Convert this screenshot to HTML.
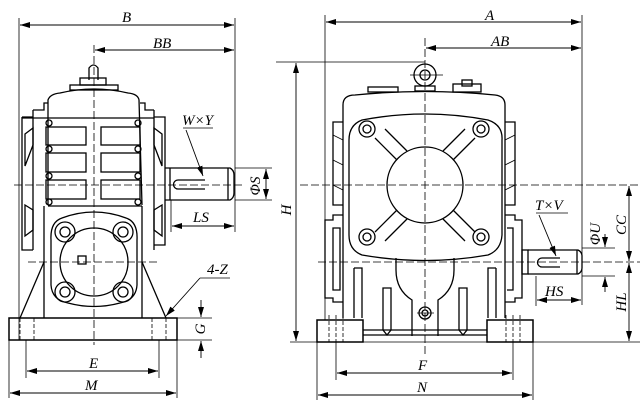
<!DOCTYPE html>
<html><head><meta charset="utf-8"><style>
html,body{margin:0;padding:0;background:#fff}
svg{display:block}
text{font-family:"Liberation Serif",serif;font-style:italic;font-size:15px;fill:#000}
line[marker-end]{stroke-width:0.9}
</style></head><body>
<svg width="642" height="414" viewBox="0 0 642 414" xmlns="http://www.w3.org/2000/svg">
<defs>
<marker id="a" viewBox="0 0 10 6" refX="10" refY="3" markerWidth="10" markerHeight="6" orient="auto-start-reverse" markerUnits="userSpaceOnUse"><path d="M0,0 L10,3 L0,6z" fill="#000"/></marker>
</defs>
<g fill="none" stroke="#000" stroke-width="1.3">
<!-- ===== LEFT VIEW dimensions ===== -->
<line x1="19" y1="18" x2="19" y2="340" stroke-width="0.8"/>
<line x1="235" y1="18" x2="235" y2="232" stroke-width="0.8"/>
<line x1="20" y1="25" x2="234" y2="25" marker-start="url(#a)" marker-end="url(#a)"/>
<line x1="95" y1="50" x2="234" y2="50" marker-start="url(#a)" marker-end="url(#a)"/>
<line x1="94" y1="45" x2="94" y2="345" stroke-dasharray="8,3" stroke-width="0.8"/>
<line x1="14" y1="185" x2="245" y2="185" stroke-dasharray="8,3" stroke-width="0.8"/>
<line x1="28" y1="262" x2="160" y2="262" stroke-dasharray="8,3" stroke-width="0.8"/>
<!-- phiS -->
<line x1="235" y1="168" x2="272" y2="168" stroke-width="0.8"/>
<line x1="235" y1="200" x2="272" y2="200" stroke-width="0.8"/>
<line x1="266" y1="169" x2="266" y2="199" marker-start="url(#a)" marker-end="url(#a)"/>
<!-- LS -->
<line x1="171" y1="200" x2="171" y2="232" stroke-width="0.8"/>
<line x1="172" y1="226" x2="234" y2="226" marker-start="url(#a)" marker-end="url(#a)"/>
<!-- knob -->
<path d="M89,80 L89,68 Q93.5,62 98,68 L98,80"/>
<rect x="80" y="78" width="26" height="7"/>
<rect x="70" y="85" width="48" height="5"/>
<!-- upper housing -->
<path d="M48,205 L48,100 Q50,94 60,93 Q94,85 128,93 Q138,94 139,100 L142,205"/>
<path d="M33,110 L33,250 M33,110 L44,110 L44,103 L48,103"/>
<path d="M22,117 L33,117 M22,117 L22,250 L33,250"/>
<path d="M154,110 L154,250 M154,110 L145,110 L145,103 L140,103"/>
<path d="M154,117 L165,117 L165,245 L154,245"/>
<path d="M22,118 L154,118" />
<!-- side triangles -->
<path d="M25,134 L33,128 L33,145 L25,166z M25,205 L33,210 L33,230 L25,236z"/>
<path d="M162,134 L154,128 L154,145 L162,166z M162,205 L154,210 L154,230 L162,236z"/>
<!-- fins -->
<rect x="46" y="127" width="40" height="18"/><rect x="46" y="153" width="40" height="19"/><rect x="46" y="180" width="40" height="19"/>
<rect x="101" y="127" width="39" height="18"/><rect x="101" y="153" width="39" height="19"/><rect x="101" y="180" width="39" height="19"/>
<circle cx="49" cy="123" r="3"/><circle cx="49" cy="149" r="3"/><circle cx="49" cy="176" r="3"/><circle cx="49" cy="202" r="3"/>
<circle cx="138" cy="123" r="3"/><circle cx="138" cy="149" r="3"/><circle cx="138" cy="176" r="3"/><circle cx="138" cy="202" r="3"/>
<line x1="48" y1="206" x2="142" y2="206"/>
<!-- shaft -->
<path d="M165,168 L230,168 Q234,170 234,175 L234,193 Q234,198 230,200 L165,200"/>
<line x1="170" y1="168" x2="170" y2="200"/>
<line x1="228" y1="168" x2="228" y2="200"/>
<path d="M205,180 L178,180 A4,4 0 0 0 178,189 L205,189"/>
<!-- lower -->
<path d="M44,206 L44,318 M142,206 L142,318"/>
<path d="M44,262 L20,318 M142,262 L166,318"/>
<path d="M62,218 Q94,206 126,218 Q138,222 137,240 L137,285 Q136,300 120,303 Q94,310 68,303 Q52,300 51,285 L51,240 Q50,222 62,218z"/>
<circle cx="94" cy="262" r="34"/>
<rect x="78" y="256" width="8" height="8"/>
<circle cx="65" cy="232" r="10"/><circle cx="65" cy="232" r="5"/>
<circle cx="123" cy="232" r="10"/><circle cx="123" cy="232" r="5"/>
<circle cx="65" cy="292" r="10"/><circle cx="65" cy="292" r="5"/>
<circle cx="123" cy="292" r="10"/><circle cx="123" cy="292" r="5"/>
<!-- base -->
<rect x="9" y="318" width="168" height="22" stroke-width="1.5"/>
<path d="M20,318 V340 M34,318 V340 M152,318 V340 M166,318 V340" stroke-dasharray="4,2" stroke-width="0.8"/>
<!-- 4-Z -->
<line x1="200" y1="278" x2="230" y2="278" stroke-width="0.8"/>
<line x1="200" y1="278" x2="166" y2="316" marker-end="url(#a)"/>
<!-- G -->
<line x1="177" y1="318" x2="212" y2="318" stroke-width="0.8"/>
<line x1="177" y1="340" x2="212" y2="340" stroke-width="0.8"/>
<line x1="201" y1="300" x2="201" y2="317" marker-end="url(#a)"/>
<line x1="201" y1="358" x2="201" y2="341" marker-end="url(#a)"/>
<!-- E M -->
<line x1="26" y1="340" x2="26" y2="378" stroke-width="0.8"/>
<line x1="159" y1="340" x2="159" y2="378" stroke-width="0.8"/>
<line x1="177" y1="340" x2="177" y2="398" stroke-width="0.8"/>
<line x1="9" y1="340" x2="9" y2="398" stroke-width="0.8"/>
<line x1="27" y1="371" x2="158" y2="371" marker-start="url(#a)" marker-end="url(#a)"/>
<line x1="10" y1="393" x2="176" y2="393" marker-start="url(#a)" marker-end="url(#a)"/>
<!-- W x Y leader -->
<line x1="183" y1="128" x2="213" y2="128" stroke-width="0.8"/>
<line x1="186" y1="130" x2="203" y2="176" marker-end="url(#a)"/>
<!-- H -->
<line x1="276" y1="62" x2="425" y2="62" stroke-width="0.8"/>
<line x1="290" y1="342" x2="640" y2="342" stroke-width="0.8"/>
<line x1="296" y1="63" x2="296" y2="341" marker-start="url(#a)" marker-end="url(#a)"/>

<!-- ===== RIGHT VIEW ===== -->
<line x1="325" y1="15" x2="325" y2="320" stroke-width="0.8"/>
<line x1="582" y1="15" x2="582" y2="305" stroke-width="0.8"/>
<line x1="326" y1="22" x2="581" y2="22" marker-start="url(#a)" marker-end="url(#a)"/>
<line x1="426" y1="48" x2="581" y2="48" marker-start="url(#a)" marker-end="url(#a)"/>
<line x1="425" y1="38" x2="425" y2="355" stroke-dasharray="8,3" stroke-width="0.8"/>
<line x1="300" y1="185" x2="640" y2="185" stroke-dasharray="8,3" stroke-width="0.8"/>
<line x1="318" y1="262" x2="640" y2="262" stroke-dasharray="8,3" stroke-width="0.8"/>
<!-- eye & plug -->
<circle cx="425" cy="75" r="11"/><circle cx="425" cy="75" r="5"/>
<line x1="410" y1="75" x2="443" y2="75" stroke-width="0.8"/>
<rect x="415" y="86" width="20" height="5"/>
<rect x="368" y="87" width="30" height="5"/>
<rect x="453" y="84" width="28" height="8"/><rect x="462" y="80" width="10" height="6"/>
<!-- body -->
<path d="M343,318 L343,105 Q343,95 355,95 Q425,88 495,95 Q505,96 505,105 L505,318"/>
<path d="M362,120 Q425,108 488,120 Q503,125 502,140 L502,235 Q501,250 488,255 Q425,266 362,255 Q349,250 349,235 L349,140 Q349,125 362,120z"/>
<circle cx="425" cy="185" r="38"/>
<path d="M397,160 L375,138 M407,151 L385,129 M453,160 L475,138 M443,151 L465,129 M397,210 L375,232 M407,219 L385,241 M453,210 L475,232 M443,219 L465,241"/>
<circle cx="367" cy="129" r="8"/><circle cx="367" cy="129" r="4"/>
<circle cx="481" cy="129" r="8"/><circle cx="481" cy="129" r="4"/>
<circle cx="367" cy="237" r="8"/><circle cx="367" cy="237" r="4"/>
<circle cx="481" cy="237" r="8"/><circle cx="481" cy="237" r="4"/>
<!-- side fins -->
<path d="M343,122 L333,122 L333,205 L343,205 M505,122 L515,122 L515,205 L505,205"/>
<path d="M333,135 L343,140 M333,160 L343,165 M333,185 L343,190 M515,135 L505,140 M515,160 L505,165 M515,185 L505,190" stroke-width="0.8"/>
<!-- lower side boxes -->
<path d="M343,215 L333,215 L333,220 L325,220 L325,298 L333,298 L333,302 L343,302"/>
<path d="M333,228 L340,228 L340,290 L333,290 Z"/>
<path d="M505,215 L515,215 L515,220 L522,220 L522,298 L515,298 L515,302 L505,302"/>
<path d="M507,228 L513,228 L513,290 L507,290"/>
<!-- low shaft -->
<rect x="522" y="250" width="6" height="24"/>
<path d="M528,250 L578,250 Q582,252 582,256 L582,268 Q582,272 578,274 L528,274"/>
<line x1="577" y1="250" x2="577" y2="274"/>
<path d="M560,258 L542,258 A4,4 0 0 0 542,267 L560,267"/>
<!-- lower center -->
<path d="M396,258 L396,270 Q396,290 412,300 L412,336 M454,258 L454,270 Q454,290 438,300 L438,336"/>
<path d="M383,288 L383,330 L387,335 L391,330 L391,288 Z M459,288 L459,330 L463,335 L467,330 L467,288 Z"/>
<path d="M354,268 L362,268 L362,318 M496,268 L488,268 L488,318 M354,268 L354,318 M496,268 L496,318"/>
<circle cx="425" cy="313" r="6"/><circle cx="425" cy="313" r="3"/>
<line x1="417" y1="313" x2="434" y2="313" stroke-width="0.8"/>
<path d="M363,330 L487,330 M363,335 L487,335"/>
<!-- feet -->
<rect x="317" y="320" width="46" height="22" stroke-width="1.5"/>
<rect x="487" y="320" width="46" height="22" stroke-width="1.5"/>
<path d="M329,315 V342 M336,315 V342 M343,315 V342 M506,315 V342 M513,315 V342 M520,315 V342" stroke-dasharray="4,2" stroke-width="0.8"/>
<!-- F N -->
<line x1="336" y1="342" x2="336" y2="380" stroke-width="0.8"/>
<line x1="513" y1="342" x2="513" y2="380" stroke-width="0.8"/>
<line x1="317" y1="342" x2="317" y2="400" stroke-width="0.8"/>
<line x1="533" y1="342" x2="533" y2="400" stroke-width="0.8"/>
<line x1="337" y1="373" x2="512" y2="373" marker-start="url(#a)" marker-end="url(#a)"/>
<line x1="318" y1="395" x2="532" y2="395" marker-start="url(#a)" marker-end="url(#a)"/>
<!-- CC HL -->
<line x1="629" y1="186" x2="629" y2="261" marker-start="url(#a)" marker-end="url(#a)"/>
<line x1="629" y1="263" x2="629" y2="341" marker-start="url(#a)" marker-end="url(#a)"/>
<!-- phiU -->
<line x1="582" y1="248" x2="615" y2="248" stroke-width="0.8"/>
<line x1="582" y1="276" x2="615" y2="276" stroke-width="0.8"/>
<line x1="605" y1="234" x2="605" y2="247" marker-end="url(#a)"/>
<line x1="605" y1="292" x2="605" y2="277" marker-end="url(#a)"/>
<!-- HS -->
<line x1="536" y1="276" x2="536" y2="306" stroke-width="0.8"/>
<line x1="537" y1="300" x2="581" y2="300" marker-start="url(#a)" marker-end="url(#a)"/>
<!-- TxV leader -->
<line x1="536" y1="213" x2="568" y2="213" stroke-width="0.8"/>
<line x1="539" y1="215" x2="556" y2="256" marker-end="url(#a)"/>
</g>
<!-- labels -->
<text x="122" y="22">B</text>
<text x="153" y="48">BB</text>
<text x="182" y="125" font-size="14">W×Y</text>
<text x="193" y="222">LS</text>
<text x="207" y="274">4-Z</text>
<text x="89" y="368">E</text>
<text x="85" y="390">M</text>
<text transform="translate(260,186) rotate(-90)" text-anchor="middle">ΦS</text>
<text transform="translate(205,329) rotate(-90)" text-anchor="middle">G</text>
<text transform="translate(291,210) rotate(-90)" text-anchor="middle">H</text>
<text x="485" y="20">A</text>
<text x="491" y="46">AB</text>
<text x="535" y="210" font-size="14">T×V</text>
<text x="545" y="296">HS</text>
<text x="418" y="370">F</text>
<text x="417" y="392">N</text>
<text transform="translate(600,234) rotate(-90)" text-anchor="middle" font-size="14">ΦU</text>
<text transform="translate(626,225) rotate(-90)" text-anchor="middle">CC</text>
<text transform="translate(626,302) rotate(-90)" text-anchor="middle">HL</text>
</svg>
</body></html>
